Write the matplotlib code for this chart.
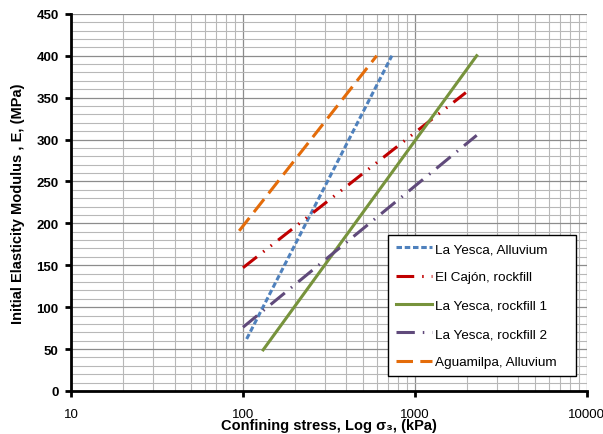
import numpy as np
import matplotlib
matplotlib.use('Agg')
import matplotlib.pyplot as plt
from matplotlib.ticker import MultipleLocator, LogLocator, NullFormatter

plt.rcParams['font.family'] = ['Liberation Sans', 'DejaVu Sans']

# series: endpoints (confining stress kPa, modulus MPa)
names = ['La Yesca, Alluvium', 'El Cajón, rockfill', 'La Yesca, rockfill 1',
         'La Yesca, rockfill 2', 'Aguamilpa, Alluvium']
s3 = [[105, 735], [100, 1980], [131, 2290], [100, 2290], [95, 600]]
E = [[62, 400], [147, 356], [49, 400], [76, 305], [191, 400]]

colors = ['#4F81BD', '#C00000', '#77933C', '#604A7B', '#E46C0A']
dashes = [(1.8, 0.9), (5.8, 2.6, 0.5, 2.6, 0.5, 2.6), None,
          (6.0, 2.6, 0.5, 2.6), (5.4, 2.4)]

fig = plt.figure(figsize=(6.03, 4.35), dpi=100)
ax = fig.add_axes([0.118, 0.099, 0.855, 0.867])

for n, x, y, c, d in zip(names, s3, E, colors, dashes):
    ln, = ax.plot(x, y, color=c, lw=2.2, label=n)
    if d is not None:
        ln.set_dashes(d)

ax.set_xscale('log')
ax.set_xlim(10, 10000)
ax.set_ylim(0, 450)
ax.yaxis.set_major_locator(MultipleLocator(50))
ax.yaxis.set_minor_locator(MultipleLocator(10))
ax.xaxis.set_minor_locator(LogLocator(base=10, subs=np.arange(2, 10)))
ax.xaxis.set_minor_formatter(NullFormatter())
ax.set_xticks([10, 100, 1000, 10000])
ax.set_xticklabels(['10', '100', '1000', '10000'])

ax.grid(True, which='major', color='#8c8c8c', lw=0.9)
ax.grid(True, which='minor', color='#b8b8b8', lw=0.8)
ax.set_axisbelow(True)

for s in ['top', 'right']:
    ax.spines[s].set_visible(False)
for s in ['left', 'bottom']:
    ax.spines[s].set_linewidth(2)
ax.tick_params(which='major', direction='out', length=4, width=2, labelsize=9.5)
ax.tick_params(axis='y', which='major', pad=5)
ax.tick_params(axis='x', which='major', pad=8)
ax.tick_params(which='minor', length=0)
for lab in ax.get_yticklabels():
    lab.set_fontweight('bold')

ax.set_xlabel('Confining stress, Log σ₃, (kPa)', fontsize=10.5, fontweight='bold')
ax.set_ylabel('Initial Elasticity Modulus , E, (MPa)', fontsize=10.5, fontweight='bold')
ax.xaxis.set_label_coords(0.5, -0.072)
ax.yaxis.set_label_coords(-0.089, 0.5)

leg = ax.legend(loc='lower left', bbox_to_anchor=(0.601, 0.021, 0.391, 0.374),
                mode='expand', fontsize=9.7,
                handlelength=2.7, labelspacing=1.18, borderpad=0.58,
                handletextpad=0.2, fancybox=False, framealpha=1, edgecolor='black')
leg.get_frame().set_linewidth(1)

fig.savefig('out.png', dpi=100)
